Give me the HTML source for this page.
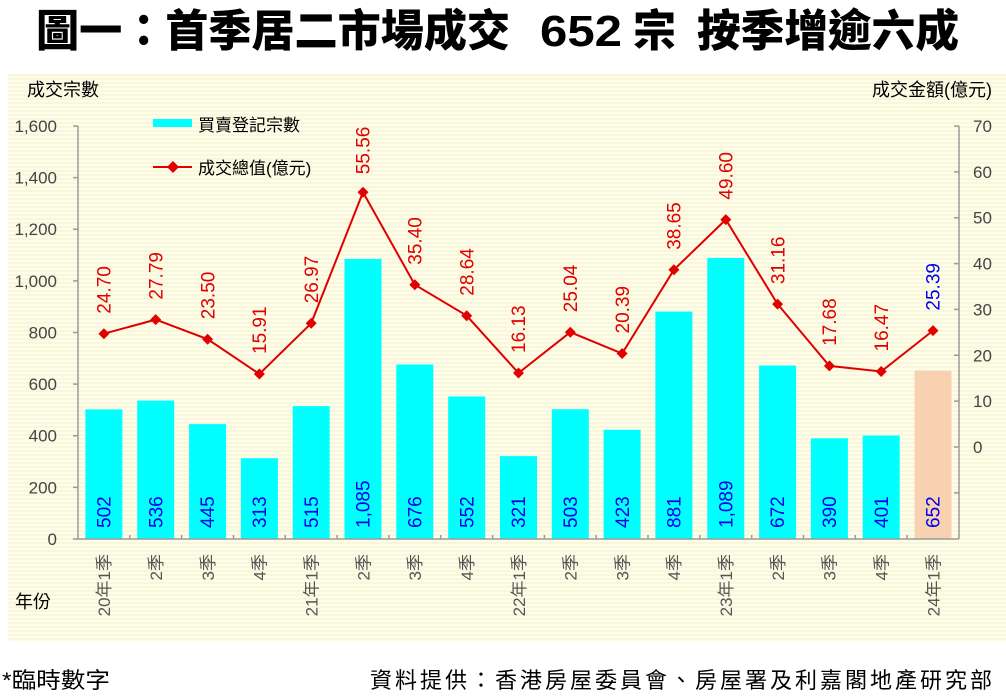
<!DOCTYPE html>
<html><head><meta charset="utf-8">
<style>
html,body{margin:0;padding:0;background:#fff;}
svg{display:block;}
text{font-family:"Liberation Sans","Noto Sans CJK TC",sans-serif;}
</style></head>
<body>
<svg width="1006" height="697" viewBox="0 0 1006 697" xmlns="http://www.w3.org/2000/svg">
<defs>
<pattern id="st" width="8" height="4" patternUnits="userSpaceOnUse">
<rect width="8" height="4" fill="#FEFDEA"/>
<rect y="2" width="8" height="2" fill="#F9F7DB"/>
</pattern>
</defs>
<rect width="1006" height="697" fill="#fff"/>
<!-- title -->
<g font-weight="900" font-size="44" fill="#000">
<text x="36" y="46" textLength="474" lengthAdjust="spacingAndGlyphs">圖一：首季居二市場成交</text>
<text x="540" y="46" textLength="82" lengthAdjust="spacingAndGlyphs" font-weight="bold">652</text>
<text x="633" y="46" textLength="43" lengthAdjust="spacingAndGlyphs">宗</text>
<text x="697" y="46" textLength="262" lengthAdjust="spacingAndGlyphs">按季增逾六成</text>
</g>
<!-- panel -->
<rect x="8" y="74" width="998" height="568" fill="url(#st)"/>
<!-- axis titles -->
<text x="27" y="96" font-size="18" fill="#000">成交宗數</text>
<text x="992" y="96" font-size="18" fill="#000" text-anchor="end">成交金額(億元)</text>
<text x="15" y="608" font-size="18" fill="#000">年份</text>
<!-- legend -->
<rect x="153" y="119" width="39" height="8" fill="#00FFFF"/>
<text x="198" y="131" font-size="17" fill="#000">買賣登記宗數</text>
<line x1="153" y1="167" x2="192" y2="167" stroke="#E00000" stroke-width="2"/>
<path d="M173 161 L179 167 L173 173 L167 167 Z" fill="#E00000"/>
<text x="198" y="174" font-size="17" fill="#000">成交總值(億元)</text>
<!-- bars -->
<g fill="#00FFFF">
<rect x="85.4" y="409.4" width="37" height="129.6"/>
<rect x="137.2" y="400.6" width="37" height="138.4"/>
<rect x="189.1" y="424.1" width="37" height="114.9"/>
<rect x="240.9" y="458.2" width="37" height="80.8"/>
<rect x="292.7" y="406.1" width="37" height="132.9"/>
<rect x="344.5" y="258.9" width="37" height="280.1"/>
<rect x="396.3" y="364.5" width="37" height="174.5"/>
<rect x="448.2" y="396.5" width="37" height="142.5"/>
<rect x="500.0" y="456.1" width="37" height="82.9"/>
<rect x="551.8" y="409.2" width="37" height="129.8"/>
<rect x="603.6" y="429.8" width="37" height="109.2"/>
<rect x="655.4" y="311.6" width="37" height="227.4"/>
<rect x="707.3" y="257.9" width="37" height="281.1"/>
<rect x="759.1" y="365.5" width="37" height="173.5"/>
<rect x="810.9" y="438.3" width="37" height="100.7"/>
<rect x="862.7" y="435.5" width="37" height="103.5"/>
</g>
<rect x="914.5" y="370.7" width="37" height="168.3" fill="#F8D2B0"/>
<!-- axes -->
<g stroke="#9A9A9A" stroke-width="1.5" fill="none">
<line x1="78" y1="126" x2="78" y2="539"/>
<line x1="959" y1="126" x2="959" y2="539"/>
<line x1="78" y1="539" x2="959" y2="539"/>
<path d="M73 126H78M73 177.6H78M73 229.25H78M73 280.9H78M73 332.5H78M73 384.1H78M73 435.75H78M73 487.4H78M73 539H78"/>
<path d="M954 126H959M954 171.9H959M954 217.7H959M954 263.6H959M954 309.4H959M954 355.3H959M954 401.1H959M954 447H959M954 492.9H959"/>
<path d="M129.8 539V535M181.6 539V535M233.5 539V535M285.3 539V535M337.1 539V535M388.9 539V535M440.7 539V535M492.6 539V535M544.4 539V535M596.2 539V535M648 539V535M699.8 539V535M751.7 539V535M803.5 539V535M855.3 539V535M907.1 539V535"/>
</g>
<!-- left tick labels -->
<g font-size="17" fill="#444" text-anchor="end">
<text x="57" y="132">1,600</text>
<text x="57" y="183.6">1,400</text>
<text x="57" y="235.2">1,200</text>
<text x="57" y="286.9">1,000</text>
<text x="57" y="338.5">800</text>
<text x="57" y="390.1">600</text>
<text x="57" y="441.7">400</text>
<text x="57" y="493.4">200</text>
<text x="57" y="545">0</text>
</g>
<!-- right tick labels -->
<g font-size="17" fill="#444">
<text x="973" y="132">70</text>
<text x="973" y="177.9">60</text>
<text x="973" y="223.7">50</text>
<text x="973" y="269.6">40</text>
<text x="973" y="315.4">30</text>
<text x="973" y="361.3">20</text>
<text x="973" y="407.1">10</text>
<text x="973" y="453">0</text>
</g>
<!-- bar value labels -->
<g font-size="19" fill="#0000EE">
<text transform="translate(110.6,528) rotate(-90)">502</text>
<text transform="translate(162.4,528) rotate(-90)">536</text>
<text transform="translate(214.2,528) rotate(-90)">445</text>
<text transform="translate(266.0,528) rotate(-90)">313</text>
<text transform="translate(317.9,528) rotate(-90)">515</text>
<text transform="translate(369.7,528) rotate(-90)">1,085</text>
<text transform="translate(421.5,528) rotate(-90)">676</text>
<text transform="translate(473.3,528) rotate(-90)">552</text>
<text transform="translate(525.1,528) rotate(-90)">321</text>
<text transform="translate(577.0,528) rotate(-90)">503</text>
<text transform="translate(628.8,528) rotate(-90)">423</text>
<text transform="translate(680.6,528) rotate(-90)">881</text>
<text transform="translate(732.4,528) rotate(-90)">1,089</text>
<text transform="translate(784.2,528) rotate(-90)">672</text>
<text transform="translate(836.1,528) rotate(-90)">390</text>
<text transform="translate(887.9,528) rotate(-90)">401</text>
<text transform="translate(939.7,528) rotate(-90)">652</text>
</g>
<!-- line -->
<polyline fill="none" stroke="#E00000" stroke-width="2" points="103.9,333.7 155.7,319.6 207.6,339.2 259.4,374.0 311.2,323.3 363.0,192.2 414.8,284.7 466.7,315.7 518.5,373.0 570.3,332.2 622.1,353.5 673.9,269.8 725.8,219.6 777.6,304.1 829.4,365.9 881.2,371.5 933.0,330.6"/>
<g fill="#E00000">
<path d="M103.9 328.2l5.5 5.5l-5.5 5.5l-5.5 -5.5z"/>
<path d="M155.7 314.1l5.5 5.5l-5.5 5.5l-5.5 -5.5z"/>
<path d="M207.6 333.7l5.5 5.5l-5.5 5.5l-5.5 -5.5z"/>
<path d="M259.4 368.5l5.5 5.5l-5.5 5.5l-5.5 -5.5z"/>
<path d="M311.2 317.8l5.5 5.5l-5.5 5.5l-5.5 -5.5z"/>
<path d="M363.0 186.7l5.5 5.5l-5.5 5.5l-5.5 -5.5z"/>
<path d="M414.8 279.2l5.5 5.5l-5.5 5.5l-5.5 -5.5z"/>
<path d="M466.7 310.2l5.5 5.5l-5.5 5.5l-5.5 -5.5z"/>
<path d="M518.5 367.5l5.5 5.5l-5.5 5.5l-5.5 -5.5z"/>
<path d="M570.3 326.7l5.5 5.5l-5.5 5.5l-5.5 -5.5z"/>
<path d="M622.1 348.0l5.5 5.5l-5.5 5.5l-5.5 -5.5z"/>
<path d="M673.9 264.3l5.5 5.5l-5.5 5.5l-5.5 -5.5z"/>
<path d="M725.8 214.1l5.5 5.5l-5.5 5.5l-5.5 -5.5z"/>
<path d="M777.6 298.6l5.5 5.5l-5.5 5.5l-5.5 -5.5z"/>
<path d="M829.4 360.4l5.5 5.5l-5.5 5.5l-5.5 -5.5z"/>
<path d="M881.2 366.0l5.5 5.5l-5.5 5.5l-5.5 -5.5z"/>
<path d="M933.0 325.1l5.5 5.5l-5.5 5.5l-5.5 -5.5z"/>
</g>
<!-- line value labels -->
<g font-size="19" fill="#E00000">
<text transform="translate(110.6,313.7) rotate(-90)">24.70</text>
<text transform="translate(162.4,299.6) rotate(-90)">27.79</text>
<text transform="translate(214.3,319.2) rotate(-90)">23.50</text>
<text transform="translate(266.1,354.0) rotate(-90)">15.91</text>
<text transform="translate(317.9,303.3) rotate(-90)">26.97</text>
<text transform="translate(369.7,174.2) rotate(-90)">55.56</text>
<text transform="translate(421.5,264.7) rotate(-90)">35.40</text>
<text transform="translate(473.4,295.7) rotate(-90)">28.64</text>
<text transform="translate(525.2,353.0) rotate(-90)">16.13</text>
<text transform="translate(577.0,312.2) rotate(-90)">25.04</text>
<text transform="translate(628.8,333.5) rotate(-90)">20.39</text>
<text transform="translate(680.6,249.8) rotate(-90)">38.65</text>
<text transform="translate(732.5,199.6) rotate(-90)">49.60</text>
<text transform="translate(784.3,284.1) rotate(-90)">31.16</text>
<text transform="translate(836.1,345.9) rotate(-90)">17.68</text>
<text transform="translate(887.9,351.5) rotate(-90)">16.47</text>
<text transform="translate(939.7,310.6) rotate(-90)" fill="#0000EE">25.39</text>
</g>
<!-- x labels -->
<g font-size="17" fill="#555" text-anchor="end">
<text transform="translate(110.2,554) rotate(-90)">20年1季</text>
<text transform="translate(162.0,554) rotate(-90)">2季</text>
<text transform="translate(213.9,554) rotate(-90)">3季</text>
<text transform="translate(265.7,554) rotate(-90)">4季</text>
<text transform="translate(317.5,554) rotate(-90)">21年1季</text>
<text transform="translate(369.3,554) rotate(-90)">2季</text>
<text transform="translate(421.1,554) rotate(-90)">3季</text>
<text transform="translate(473.0,554) rotate(-90)">4季</text>
<text transform="translate(524.8,554) rotate(-90)">22年1季</text>
<text transform="translate(576.6,554) rotate(-90)">2季</text>
<text transform="translate(628.4,554) rotate(-90)">3季</text>
<text transform="translate(680.2,554) rotate(-90)">4季</text>
<text transform="translate(732.1,554) rotate(-90)">23年1季</text>
<text transform="translate(783.9,554) rotate(-90)">2季</text>
<text transform="translate(835.7,554) rotate(-90)">3季</text>
<text transform="translate(887.5,554) rotate(-90)">4季</text>
<text transform="translate(939.3,554) rotate(-90)">24年1季</text>
</g>
<!-- footer -->
<text x="2" y="688" font-size="22" fill="#000" textLength="108" lengthAdjust="spacingAndGlyphs">*臨時數字</text>
<text x="370" y="688" font-size="22" fill="#000" textLength="622" lengthAdjust="spacing">資料提供：香港房屋委員會、房屋署及利嘉閣地產研究部</text>
</svg>
</body></html>
